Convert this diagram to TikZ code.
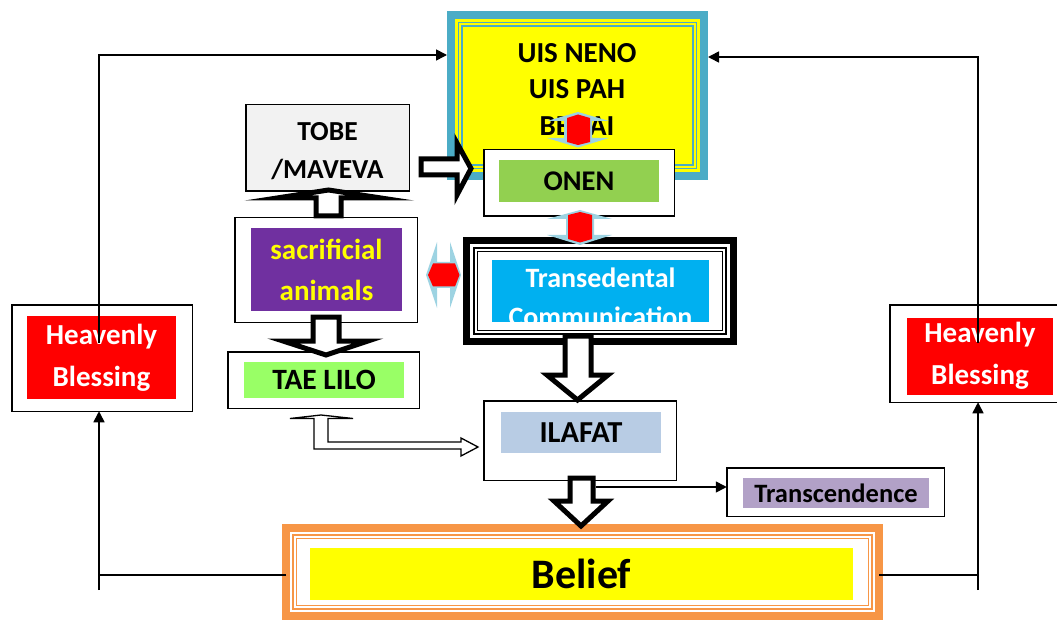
\documentclass[tikz,border=0pt]{standalone}
\usepackage{fontspec}
\setmainfont{Carlito}
\usetikzlibrary{arrows.meta}
\definecolor{tealb}{HTML}{4BACC6}
\definecolor{yel}{HTML}{FFFF00}
\definecolor{onengreen}{HTML}{92D050}
\definecolor{tobegray}{HTML}{F2F2F2}
\definecolor{purp}{HTML}{7030A0}
\definecolor{taegreen}{HTML}{99FF66}
\definecolor{cyanb}{HTML}{00B0F0}
\definecolor{ilablue}{HTML}{B8CCE4}
\definecolor{lilac}{HTML}{B2A1C7}
\definecolor{orng}{HTML}{F79646}
\definecolor{lblue}{HTML}{9DD3E2}
\begin{document}
\begin{tikzpicture}[x=1pt,y=-1pt,
  frame/.style={draw=black, line width=1.5pt, fill=white, inner sep=0pt, outer sep=0pt},
  fillbox/.style={draw=none, inner sep=0pt, outer sep=0pt, align=center},
  lbl/.style={font=\fontsize{29}{36}\selectfont\bfseries},
  blockarrow/.style={draw=black, line width=5pt, fill=white, line join=miter, miter limit=20},
  conn/.style={draw=black, line width=1.6pt},
  tip/.style={-{Triangle[length=11pt,width=11pt]}},
  bevel/.style={fill=lblue, draw=none},
  redcore/.style={fill=red, draw=none}]
\useasboundingbox (0,0) rectangle (1057,620);

% ---- UIS NENO box
\node[draw=tealb, line width=8pt, fill=yel, inner sep=0pt, outer sep=0pt,
      minimum width=253pt, minimum height=161pt] (uis) at (577.5,95.5) {};
\draw[tealb, line width=1.2pt] ([shift={(7.5,7.5)}]uis.north west) rectangle ([shift={(-7.5,-7.5)}]uis.south east);
\draw[tealb, line width=1.2pt] ([shift={(11,11)}]uis.north west) rectangle ([shift={(-11,-11)}]uis.south east);
\node[fillbox, font=\fontsize{29}{36.5}\selectfont\bfseries] (uisT) at (577,89) {UIS NENO\\UIS PAH\\BENAI};

% ---- ONEN
\node[frame, minimum width=190.5pt, minimum height=66.5pt] (onen) at (579,183) {};
\node[fillbox, font=\fontsize{28.5}{34}\selectfont\bfseries, fill=onengreen, minimum width=160pt, minimum height=42pt] (onenT) at (579,181) {ONEN};

% ---- TOBE / MAVEVA
\node[frame, fill=tobegray, minimum width=163.5pt, minimum height=86.5pt] (tobe) at (327.5,148) {};
\node[fillbox, font=\fontsize{27.5}{38}\selectfont\bfseries] (tobeT) at (327.5,151) {TOBE\\/MAVEVA};

% ---- sacrificial animals
\node[frame, minimum width=182.5pt, minimum height=104.5pt] (sac) at (326,270) {};
\node[fillbox, fill=purp, text=yel, font=\fontsize{29}{41}\selectfont\bfseries,
      minimum width=151pt, minimum height=83pt] (sacT) at (326.5,269.5) {sacrificial\\animals};

% ---- TAE LILO
\node[frame, minimum width=191.5pt, minimum height=56.5pt] (tae) at (323.5,380) {};
\node[fillbox, font=\fontsize{29.5}{34}\selectfont\bfseries, fill=taegreen, minimum width=160pt, minimum height=36pt] (taeT) at (324,380) {TAE LILO};

% ---- Transedental Communication
\node[draw=black, line width=7pt, fill=white, inner sep=0pt, outer sep=0pt,
      minimum width=267pt, minimum height=101pt] (trans) at (600,291) {};
\draw[black, line width=1.2pt] ([shift={(7.5,7.5)}]trans.north west) rectangle ([shift={(-7.5,-7.5)}]trans.south east);
\draw[black, line width=1.2pt] ([shift={(11,11)}]trans.north west) rectangle ([shift={(-11,-11)}]trans.south east);
\begin{scope}
\clip (492,260) rectangle (709,322);
\node[fillbox, fill=cyanb, minimum width=217pt, minimum height=62pt] (transT) at (600.5,291) {};
\node[fillbox, text=white, font=\fontsize{28}{39}\selectfont\bfseries] (transL) at (600.5,297) {Transedental\\Communication};
\end{scope}

% ---- ILAFAT
\node[frame, minimum width=192.5pt, minimum height=79.5pt] (ila) at (580,440.5) {};
\node[fillbox, font=\fontsize{30.5}{36}\selectfont\bfseries, fill=ilablue, minimum width=160pt, minimum height=41pt] (ilaT) at (581,432.5) {ILAFAT};

% ---- Transcendence
\node[frame, minimum width=217.5pt, minimum height=48.5pt] (tsc) at (835.5,492) {};
\node[fillbox, fill=lilac, font=\fontsize{26.5}{30}\selectfont\bfseries, minimum width=186pt, minimum height=30pt] (tscT) at (836,493) {Transcendence};

% ---- Belief
\node[draw=orng, line width=8pt, fill=white, inner sep=0pt, outer sep=0pt,
      minimum width=593pt, minimum height=88pt] (belief) at (582.5,572) {};
\draw[orng, line width=1.5pt] ([shift={(7,7)}]belief.north west) rectangle ([shift={(-7,-7)}]belief.south east);
\draw[orng, line width=1.5pt] ([shift={(10.5,10.5)}]belief.north west) rectangle ([shift={(-10.5,-10.5)}]belief.south east);
\node[fillbox, fill=yel, font=\fontsize{42}{48}\selectfont\bfseries, minimum width=543pt, minimum height=52pt] (beliefT) at (581.5,574) {Belief};

% ---- Heavenly Blessing boxes
\node[frame, minimum width=180.5pt, minimum height=106.5pt] (hbL) at (102,358) {};
\node[fillbox, fill=red, text=white, font=\fontsize{29}{42}\selectfont\bfseries, minimum width=149pt, minimum height=83pt] (hbLT) at (101.5,357.5) {Heavenly\\Blessing};
\node[frame, minimum width=171.5pt, minimum height=97.5pt] (hbR) at (975.5,353.5) {};
\node[fillbox, fill=red, text=white, font=\fontsize{29}{42}\selectfont\bfseries, minimum width=146pt, minimum height=77pt] (hbRT) at (980,356) {Heavenly\\Blessing};

% ---- block arrows
\draw[blockarrow] (421,159) -- (457,159) -- (457,143) -- (471,168.5) -- (457,195) -- (457,175) -- (421,175) -- cycle;
\draw[blockarrow] (316,216) -- (316,198) -- (277,198) -- (328.5,190) -- (381,198) -- (341,198) -- (341,216) -- cycle;
\draw[blockarrow] (313,317) -- (339,317) -- (339,341) -- (368,341) -- (326,355) -- (283,341) -- (313,341) -- cycle;
\draw[blockarrow] (565,336) -- (591,336) -- (591,375) -- (608,375) -- (577.5,400) -- (547,375) -- (565,375) -- cycle;
\draw[blockarrow] (570,478) -- (593,478) -- (593,501) -- (608,501) -- (581,526) -- (554,501) -- (570,501) -- cycle;

% ---- hollow arrow TAE LILO -> ILAFAT
\draw[black, line width=1.3pt, fill=white, line join=miter]
  (321,415) -- (353,418.5) -- (328,418.5) -- (328,442) -- (461,442) -- (461,438) -- (478,447) -- (461,456) -- (461,449) -- (314,449) -- (314,418.5) -- (290,418.5) -- cycle;

% ---- bevelled double arrows
\fill[bevel] (578,112) -- (609,121) -- (592,121) -- (592,138) -- (609,138) -- (578,147.5) -- (547,138) -- (564,138) -- (564,121) -- (547,121) -- cycle;
\fill[redcore] (578,114.5) -- (590,118) -- (590,142) -- (578,145) -- (567,142) -- (567,118) -- cycle;
\fill[bevel] (580,210) -- (612,219) -- (594,219) -- (594,235) -- (612,235) -- (580,245) -- (547,235) -- (566,235) -- (566,219) -- (547,219) -- cycle;
\fill[redcore] (580,212) -- (592,215) -- (592,239) -- (580,242.5) -- (568,239) -- (568,215) -- cycle;
\fill[bevel] (426,275) -- (437,242) -- (437,262) -- (450,262) -- (450,242) -- (461,275) -- (450,308) -- (450,288) -- (437,288) -- (437,308) -- cycle;
\fill[redcore] (428,275) -- (433,263.5) -- (455,263.5) -- (459.5,275) -- (455,286.5) -- (433,286.5) -- cycle;

% ---- connectors
\coordinate (bl) at (99,575);
\coordinate (lbot) at (99,590);
\coordinate (ltop) at (99,343);
\coordinate (uisInL) at (447,55);
\coordinate (br) at (978,575);
\coordinate (rbot) at (978,590);
\coordinate (rtop) at (978,343);
\coordinate (uisInR) at (708,57);
\coordinate (ilaOut) at (596,487);

\draw[conn] (bl -| belief.west) -- (bl);
\draw[conn, tip] (lbot) -- (lbot |- hbL.south);
\draw[conn, tip] (ltop) |- (uisInL);
\draw[conn] (br -| belief.east) -- (br);
\draw[conn, tip] (rbot) -- (rbot |- hbR.south);
\draw[conn, tip] (rtop) |- (uisInR);
\draw[conn, tip] (ilaOut) -- (ilaOut -| tsc.west);
\end{tikzpicture}
\end{document}
